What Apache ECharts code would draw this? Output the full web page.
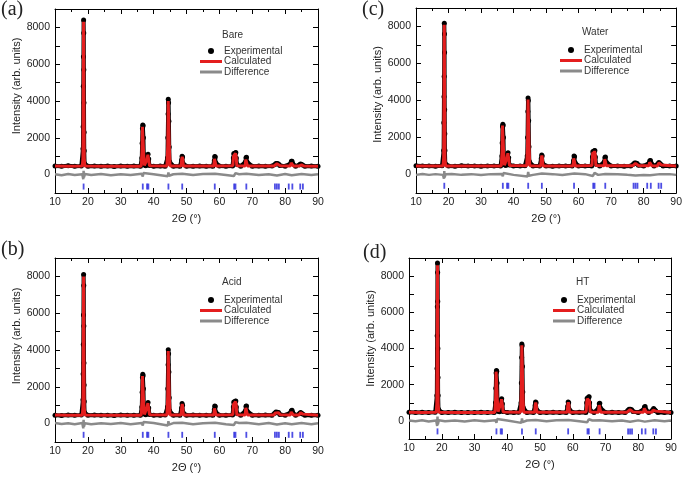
<!DOCTYPE html>
<html>
<head>
<meta charset="utf-8">
<script src="https://cdn.jsdelivr.net/npm/echarts@6/dist/echarts.min.js"></script>
<style>html,body{margin:0;padding:0;background:#fff;}#c{width:685px;height:478px;}</style>
</head>
<body>
<div id="c"></div>
<script>
// ---------- data ----------
const panelLabels = ['(a)', '(c)', '(b)', '(d)'];
const sampleNames = ['Bare', 'Water', 'Acid', 'HT'];
const legendNames = ['Experimental', 'Calculated', 'Difference'];
const xLimits = [10, 90];
const yLimits = [-1000, 9000];

// Bragg reflection positions (2θ)
const braggPos = [18.7, 36.7, 38.0, 38.4, 44.5, 48.7, 58.6, 64.5, 64.9, 68.2, 76.9, 77.5, 78.1, 81.1, 82.2, 84.6, 85.4];
const braggLevel = [-650, -610, -610, -580];

// (a) Bare
const expA = [[10,470],[12,450],[14,480],[16,455],[18,465],
[18.5,1400],[18.55,2600],[18.6,4800],[18.65,6400],[18.7,8400],[18.75,7700],[18.78,5700],[18.82,3900],[18.86,2300],[18.9,1300],[19.0,600],
[20,460],[22,470],[24,450],[26,465],[28,445],[30,470],[32,455],[34,465],[36,455],
[36.4,900],[36.5,1700],[36.6,2500],[36.7,2700],[36.8,2650],[36.9,2000],[37.0,1100],[37.2,520],
[37.6,480],[37.9,800],[38.1,1000],[38.3,1100],[38.5,850],[38.7,500],
[40,455],[42,470],[43.5,460],
[44.2,900],[44.3,2000],[44.4,3300],[44.45,4100],[44.55,3900],[44.65,2900],[44.75,1500],[44.85,700],
[46,460],[48,455],
[48.5,800],[48.65,1000],[48.8,950],[48.95,600],
[50,460],[52,450],[54,470],[56,455],[58,460],
[58.45,750],[58.6,980],[58.75,950],[58.9,650],
[60,470],[62,455],[64,465],
[64.25,900],[64.4,1150],[64.55,1120],[64.7,1100],[64.85,1180],[65.0,1200],[65.15,900],[65.35,550],
[66.5,460],
[67.95,700],[68.1,920],[68.25,940],[68.4,700],
[70,455],[72,470],[74,450],[76,465],
[76.8,540],[77.2,600],[77.6,600],[78.0,580],[78.4,500],
[80,460],
[81.7,600],[81.9,720],[82.1,730],[82.3,600],
[83.2,460],
[84.4,540],[84.7,580],[85.0,550],[85.3,520],
[86,460],[88,470],[90,455]];
const calcA = [[10,465],[14,460],[18.3,465],[18.5,900],[18.62,5000],[18.7,8300],[18.78,5000],[18.9,900],[19.1,465],[25,455],[30,455],
[36.2,460],[36.45,1200],[36.6,2600],[36.8,2600],[36.95,1200],[37.2,500],[37.7,520],[37.95,800],[38.25,1080],[38.5,800],[38.75,480],
[44.05,470],[44.3,1600],[44.45,4000],[44.6,4000],[44.75,1600],[45.0,470],[48.35,465],[48.55,850],[48.7,970],[48.85,850],[49.05,465],
[58.3,465],[58.5,850],[58.65,950],[58.8,850],[59.0,465],[64.1,480],[64.3,1000],[64.45,1100],[64.7,1000],[64.9,1150],[65.1,1000],[65.3,480],
[67.85,470],[68.05,820],[68.2,900],[68.35,820],[68.55,470],[76.6,470],[77.0,560],[77.5,590],[78.0,570],[78.5,475],
[81.6,470],[81.85,640],[82.05,700],[82.25,640],[82.5,470],[84.2,465],[84.5,540],[84.7,570],[85.0,530],[85.4,510],[85.7,465],[90,460]];
const diffA = [[10,20],[12,-30],[14,30],[16,-20],[18.3,20],[18.6,-250],[18.7,200],[18.8,-150],[19.1,30],[21,-20],[24,30],[27,-30],[30,20],[33,-20],
[36.4,40],[36.7,-110],[36.9,90],[37.2,0],[40,20],[44.3,-90],[44.5,120],[44.7,-60],[46,20],[48.7,50],[52,-20],[55,30],[58.7,50],[62,-20],
[64.4,-80],[64.9,80],[66,20],[68.2,40],[72,-20],[75,20],[77.5,-50],[80,30],[82,-40],[85,30],[88,-20],[90,20]];

// (c) Water
const expC = [[10,470],[12,455],[14,465],[16,450],[18,470],
[18.5,1300],[18.55,2800],[18.6,4200],[18.65,5300],[18.7,8180],[18.75,7600],[18.78,6600],[18.82,3500],[18.86,2200],[18.9,1300],[19.0,600],
[20,460],[22,450],[24,470],[26,455],[28,460],[30,450],[32,465],[34,455],[36,460],
[36.4,1000],[36.5,1700],[36.6,2600],[36.7,2715],[36.8,2650],[36.9,2000],[37.0,1000],[37.2,530],
[37.6,490],[37.9,900],[38.1,1100],[38.3,1180],[38.5,900],[38.7,510],
[40,460],[42,455],[43.5,470],
[44.2,1000],[44.3,2000],[44.4,3400],[44.45,4130],[44.55,4000],[44.65,2900],[44.75,1500],[44.85,700],
[46,460],[48,455],
[48.5,850],[48.65,1050],[48.8,1000],[48.95,600],
[50,460],[52,450],[54,465],[56,455],[58,460],
[58.45,750],[58.6,1000],[58.75,960],[58.9,650],
[60,455],[62,465],[64,460],
[64.25,950],[64.4,1250],[64.55,1200],[64.7,1180],[64.85,1280],[65.0,1300],[65.15,950],[65.35,560],
[66.5,460],
[67.95,700],[68.1,920],[68.25,940],[68.4,700],
[70,455],[72,465],[74,450],[76,460],
[76.8,550],[77.2,620],[77.6,620],[78.0,600],[78.4,500],
[80,455],
[81.7,620],[81.9,740],[82.1,760],[82.3,620],
[83.2,460],
[84.4,580],[84.7,650],[85.0,600],[85.3,540],
[86,455],[88,465],[90,460]];
const calcC = [[10,465],[14,460],[18.3,465],[18.5,900],[18.62,4900],[18.7,8100],[18.78,4900],[18.9,900],[19.1,465],[25,455],[30,455],
[36.2,460],[36.45,1200],[36.6,2650],[36.8,2650],[36.95,1200],[37.2,500],[37.7,520],[37.95,880],[38.25,1150],[38.5,850],[38.75,480],
[44.05,470],[44.3,1600],[44.45,4050],[44.6,4050],[44.75,1600],[45.0,470],[48.35,465],[48.55,880],[48.7,1020],[48.85,880],[49.05,465],
[58.3,465],[58.5,870],[58.65,970],[58.8,870],[59.0,465],[64.1,480],[64.3,1080],[64.45,1220],[64.7,1100],[64.9,1270],[65.1,1080],[65.3,480],
[67.85,470],[68.05,830],[68.2,910],[68.35,830],[68.55,470],[76.6,470],[77.0,570],[77.5,600],[78.0,580],[78.5,475],
[81.6,470],[81.85,660],[82.05,730],[82.25,660],[82.5,470],[84.2,465],[84.5,570],[84.7,620],[85.0,560],[85.4,520],[85.7,465],[90,460]];
const diffC = [[10,-20],[12,30],[14,-20],[16,20],[18.3,-20],[18.6,-230],[18.7,190],[18.8,-150],[19.1,20],[21,30],[24,-20],[27,20],[30,-30],[33,20],
[36.4,30],[36.7,-100],[36.9,80],[37.2,0],[40,-20],[44.3,-110],[44.5,140],[44.7,-70],[46,-20],[48.7,50],[52,20],[55,-30],[58.7,50],[62,20],
[64.4,-80],[64.9,90],[66,-20],[68.2,30],[72,20],[75,-20],[77.5,-50],[80,-30],[82,-40],[85,20],[88,20],[90,-20]];

// (b) Acid
const expB = [[10,460],[12,445],[14,470],[16,450],[18,465],
[18.5,1300],[18.55,2700],[18.6,4300],[18.65,5900],[18.7,8100],[18.75,7500],[18.78,5300],[18.82,3300],[18.86,2100],[18.9,1200],[19.0,600],
[20,455],[22,470],[24,450],[26,460],[28,445],[30,465],[32,450],[34,460],[36,455],
[36.4,900],[36.5,1700],[36.6,2500],[36.7,2680],[36.8,2600],[36.9,1900],[37.0,1000],[37.2,520],
[37.6,480],[37.9,850],[38.1,1050],[38.3,1140],[38.5,850],[38.7,500],
[40,460],[42,450],[43.5,465],
[44.2,900],[44.3,1900],[44.4,3200],[44.45,4020],[44.55,3800],[44.65,2800],[44.75,1400],[44.85,700],
[46,455],[48,460],
[48.5,850],[48.65,1090],[48.8,1000],[48.95,600],
[50,450],[52,465],[54,450],[56,460],[58,455],
[58.45,750],[58.6,960],[58.75,930],[58.9,620],
[60,460],[62,450],[64,465],
[64.25,900],[64.4,1180],[64.55,1150],[64.7,1120],[64.85,1210],[65.0,1230],[65.15,900],[65.35,550],
[66.5,455],
[67.95,700],[68.1,940],[68.25,960],[68.4,700],
[70,460],[72,450],[74,465],[76,455],
[76.8,560],[77.2,630],[77.6,620],[78.0,600],[78.4,500],
[80,460],
[81.7,600],[81.9,700],[82.1,720],[82.3,600],
[83.2,455],
[84.4,550],[84.7,600],[85.0,560],[85.3,520],
[86,460],[88,450],[90,460]];
const calcB = [[10,465],[14,455],[18.3,460],[18.5,900],[18.62,4800],[18.7,8000],[18.78,4800],[18.9,900],[19.1,465],[25,450],[30,455],
[36.2,460],[36.45,1200],[36.6,2580],[36.8,2580],[36.95,1200],[37.2,500],[37.7,520],[37.95,850],[38.25,1110],[38.5,820],[38.75,480],
[44.05,470],[44.3,1550],[44.45,3950],[44.6,3950],[44.75,1550],[45.0,470],[48.35,470],[48.55,900],[48.7,1060],[48.85,900],[49.05,470],
[58.3,465],[58.5,830],[58.65,930],[58.8,830],[59.0,465],[64.1,480],[64.3,1050],[64.45,1150],[64.7,1050],[64.9,1200],[65.1,1050],[65.3,480],
[67.85,470],[68.05,850],[68.2,930],[68.35,850],[68.55,470],[76.6,470],[77.0,580],[77.5,610],[78.0,590],[78.5,475],
[81.6,470],[81.85,630],[82.05,690],[82.25,630],[82.5,470],[84.2,465],[84.5,560],[84.7,590],[85.0,540],[85.4,515],[85.7,465],[90,460]];
const diffB = [[10,30],[12,-20],[14,20],[16,-30],[18.3,30],[18.6,-260],[18.7,210],[18.8,-170],[19.1,20],[21,-30],[24,20],[27,-20],[30,30],[33,-30],
[36.4,30],[36.7,-100],[36.9,90],[37.2,0],[40,30],[44.3,-100],[44.5,130],[44.7,-60],[46,30],[48.7,50],[52,-30],[55,20],[58.7,50],[62,-30],
[64.4,-80],[64.9,80],[66,30],[68.2,40],[72,-30],[75,30],[77.5,-50],[80,20],[82,-40],[85,30],[88,-30],[90,20]];

// (d) HT
const expD = [[10,480],[12,465],[14,475],[16,460],[18,475],
[18.5,1400],[18.55,2900],[18.6,4700],[18.65,6300],[18.7,8730],[18.75,8200],[18.78,6600],[18.82,4000],[18.86,2400],[18.9,1400],[19.0,650],
[20,470],[22,460],[24,480],[26,465],[28,470],[30,460],[32,475],[34,465],[36,470],
[36.4,1000],[36.5,1800],[36.6,2650],[36.7,2780],[36.8,2750],[36.9,2100],[37.0,1100],[37.2,540],
[37.6,500],[37.9,950],[38.1,1150],[38.3,1230],[38.5,950],[38.7,520],
[40,470],[42,460],[43.5,475],
[44.2,1000],[44.3,2100],[44.4,3500],[44.45,4250],[44.55,4150],[44.65,3000],[44.75,1600],[44.85,750],
[46,470],[48,465],
[48.5,850],[48.65,1050],[48.8,1000],[48.95,620],
[50,470],[52,460],[54,475],[56,465],[58,470],
[58.45,800],[58.6,1050],[58.75,1000],[58.9,650],
[60,465],[62,475],[64,470],
[64.25,1000],[64.4,1250],[64.55,1220],[64.7,1200],[64.85,1320],[65.0,1340],[65.15,1000],[65.35,580],
[66.5,470],
[67.95,720],[68.1,950],[68.25,975],[68.4,720],
[70,465],[72,475],[74,460],[76,470],
[76.8,570],[77.2,640],[77.6,640],[78.0,620],[78.4,520],
[80,465],
[81.7,640],[81.9,770],[82.1,790],[82.3,640],
[83.2,470],
[84.4,600],[84.7,680],[85.0,620],[85.3,560],
[86,470],[88,460],[90,470]];
const calcD = [[10,475],[14,470],[18.3,475],[18.5,950],[18.62,5200],[18.7,8600],[18.78,5200],[18.9,950],[19.1,475],[25,465],[30,465],
[36.2,470],[36.45,1250],[36.6,2720],[36.8,2720],[36.95,1250],[37.2,510],[37.7,530],[37.95,920],[38.25,1200],[38.5,900],[38.75,490],
[44.05,480],[44.3,1650],[44.45,4180],[44.6,4180],[44.75,1650],[45.0,480],[48.35,475],[48.55,880],[48.7,1020],[48.85,880],[49.05,475],
[58.3,475],[58.5,900],[58.65,1020],[58.8,900],[59.0,475],[64.1,490],[64.3,1080],[64.45,1220],[64.7,1120],[64.9,1310],[65.1,1100],[65.3,490],
[67.85,480],[68.05,870],[68.2,950],[68.35,870],[68.55,480],[76.6,480],[77.0,590],[77.5,620],[78.0,600],[78.5,485],
[81.6,480],[81.85,690],[82.05,760],[82.25,690],[82.5,480],[84.2,475],[84.5,600],[84.7,650],[85.0,590],[85.4,540],[85.7,475],[90,470]];
const diffD = [[10,20],[12,-20],[14,30],[16,-30],[18.3,20],[18.6,-280],[18.7,240],[18.8,-200],[19.1,30],[21,-20],[24,20],[27,-30],[30,30],[33,-20],
[36.4,40],[36.7,-110],[36.9,100],[37.2,0],[40,20],[44.3,-110],[44.5,140],[44.7,-70],[46,20],[48.7,50],[52,-20],[55,30],[58.7,50],[62,-20],
[64.4,-80],[64.9,90],[66,20],[68.2,40],[72,-20],[75,20],[77.5,-50],[80,30],[82,-40],[85,30],[88,-20],[90,20]];

const expSets = [expA, expC, expB, expD];
const calcSets = [calcA, calcC, calcB, calcD];
const diffSets = [diffA, diffC, diffB, diffD];

// ---------- layout / styling ----------
const FONT = 'Liberation Sans, Arial, sans-serif';
const RED = '#e41e1e', GREY = '#8a8a8a', BLUE = '#2222dd';
const grids = [
  {left: 55, top: 9, width: 263, height: 184},
  {left: 416, top: 8, width: 262, height: 185},
  {left: 55, top: 258, width: 263, height: 184},
  {left: 409, top: 258, width: 262, height: 181}
];
const yNamePad = [30, 12, 28, 20];
const yNameGap = [32, 31, 32, 30];
const legendPos = [[200, 46], [560, 45], [200, 295], [553, 295]];
const samplePos = [[222, 30], [582, 27], [222, 277], [576, 277]];
const labelPos = [[1, 0], [362, 0], [1, 240], [363, 243]];
const lineIcon = 'path://M0,0H22V3H0Z';

const xAxes = [], yAxes = [], series = [], legends = [], titles = [];
grids.forEach((g, i) => {
  const tick = {inside: true, length: 5, lineStyle: {color: '#000', width: 1}};
  const line = {show: true, onZero: false, lineStyle: {color: '#000', width: 1}};
  xAxes.push({
    type: 'value', gridIndex: i, min: xLimits[0], max: xLimits[1], interval: 10, position: 'bottom',
    axisLine: line, axisTick: tick,
    minorTick: {show: true, splitNumber: 2, length: 3, lineStyle: {color: '#000'}},
    splitLine: {show: false},
    axisLabel: {margin: 4, fontSize: 10.5, color: '#222', fontFamily: FONT},
    name: '2\u0398 (\u00B0)', nameLocation: 'middle', nameGap: 20,
    nameTextStyle: {fontSize: 11, color: '#222', fontFamily: FONT}
  });
  xAxes.push({
    type: 'value', gridIndex: i, min: xLimits[0], max: xLimits[1], interval: 10, position: 'top',
    axisLine: line, axisTick: tick,
    minorTick: {show: true, splitNumber: 2, length: 3, lineStyle: {color: '#000'}},
    splitLine: {show: false}, axisLabel: {show: false}
  });
  yAxes.push({
    type: 'value', gridIndex: i, min: yLimits[0], max: yLimits[1], interval: 1000, position: 'left',
    axisLine: line, axisTick: tick, splitLine: {show: false},
    axisLabel: {margin: 5, fontSize: 10.5, color: '#222', fontFamily: FONT,
      formatter: v => (v >= 0 && v % 2000 === 0) ? String(v) : ''},
    name: 'Intensity (arb. units)', nameLocation: 'middle', nameGap: yNameGap[i], nameRotate: 90,
    nameTextStyle: {fontSize: 11, color: '#222', fontFamily: FONT, padding: [0, 0, 0, yNamePad[i]]}
  });
  yAxes.push({
    type: 'value', gridIndex: i, min: yLimits[0], max: yLimits[1], interval: 1000, position: 'right',
    axisLine: line, axisTick: tick, splitLine: {show: false}, axisLabel: {show: false}
  });
  series.push({
    name: 'Experimental', type: 'line', xAxisIndex: 2 * i, yAxisIndex: 2 * i,
    data: expSets[i], symbol: 'circle', symbolSize: 5, showSymbol: true, showAllSymbol: true,
    itemStyle: {color: '#000'}, lineStyle: {color: '#000', width: 4}, z: 2, animation: false
  });
  series.push({
    name: 'Difference', type: 'line', xAxisIndex: 2 * i, yAxisIndex: 2 * i,
    data: diffSets[i], symbol: 'none', lineStyle: {color: GREY, width: 2.5},
    itemStyle: {color: GREY}, z: 2, animation: false
  });
  series.push({
    name: 'Calculated', type: 'line', xAxisIndex: 2 * i, yAxisIndex: 2 * i,
    data: calcSets[i], symbol: 'none', lineStyle: {color: RED, width: 3},
    itemStyle: {color: RED}, z: 3, animation: false
  });
  series.push({
    name: 'Bragg', type: 'scatter', xAxisIndex: 2 * i, yAxisIndex: 2 * i,
    data: braggPos.map(p => [p, braggLevel[i]]), symbol: 'rect', symbolSize: [1.8, 6],
    itemStyle: {color: BLUE}, z: 2, animation: false
  });
  legends.push({
    left: legendPos[i][0], top: legendPos[i][1], orient: 'vertical', padding: 0,
    itemWidth: 22, itemHeight: 6, itemGap: 0.5, selectedMode: false,
    textStyle: {fontSize: 10, color: '#333', fontFamily: FONT, lineHeight: 10, padding: [0, 0, 0, -3]},
    data: [
      {name: legendNames[0], icon: 'circle', itemStyle: {color: '#000'}},
      {name: legendNames[1], icon: lineIcon, itemStyle: {color: RED}},
      {name: legendNames[2], icon: lineIcon, itemStyle: {color: GREY}}
    ]
  });
  titles.push({
    text: panelLabels[i], left: labelPos[i][0], top: labelPos[i][1], padding: 0,
    textStyle: {fontSize: 20, fontWeight: 'normal', color: '#222', fontFamily: 'Liberation Serif, Times New Roman, serif'}
  });
  titles.push({
    text: sampleNames[i], left: samplePos[i][0], top: samplePos[i][1], padding: 0,
    textStyle: {fontSize: 10, fontWeight: 'normal', color: '#333', fontFamily: FONT}
  });
});

const chart = echarts.init(document.getElementById('c'), null, {renderer: 'canvas'});
chart.setOption({
  backgroundColor: '#fff',
  animation: false,
  title: titles,
  legend: legends,
  grid: grids,
  xAxis: xAxes,
  yAxis: yAxes,
  series: series
});
</script>
</body>
</html>
